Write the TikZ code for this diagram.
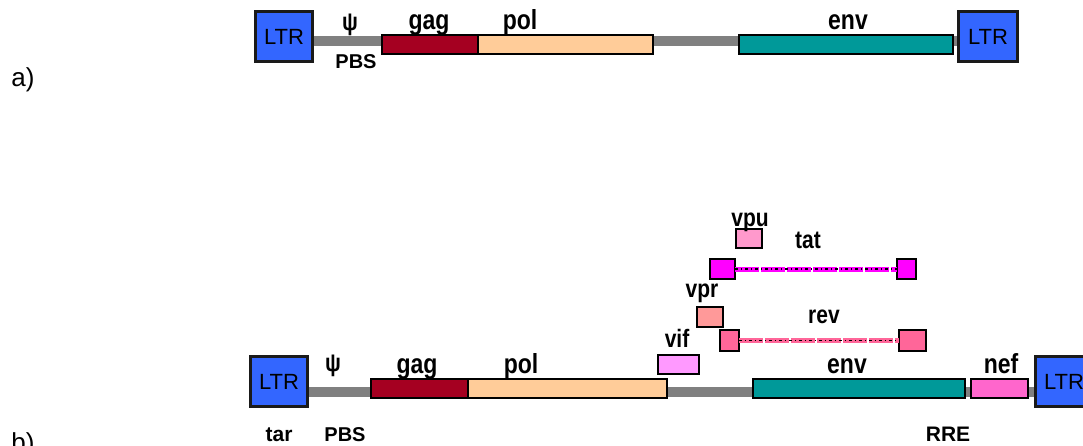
\documentclass[tikz,border=0pt]{standalone}
\usepackage{fontspec}
\setmainfont{Liberation Sans}
\usetikzlibrary{backgrounds}
\definecolor{ltrblue}{HTML}{3366FF}
\definecolor{ltrline}{HTML}{1A1A1A}
\definecolor{gagred}{HTML}{A50021}
\definecolor{polpeach}{HTML}{FFCC99}
\definecolor{envteal}{HTML}{009999}
\definecolor{nefpink}{HTML}{FF66CC}
\definecolor{vifpink}{HTML}{FF99FF}
\definecolor{revpink}{HTML}{FF6699}
\definecolor{vprpink}{HTML}{FF9999}
\definecolor{tatmag}{HTML}{FF00FF}
\definecolor{vpupink}{HTML}{FF99CC}
\definecolor{bbgray}{HTML}{808080}
\newcommand\lblscale[1]{\scalebox{1}[1.2]{#1}}
\tikzset{
  genebox/.style={draw=black, line width=1.2pt, inner sep=0pt, outer sep=0pt, anchor=center},
  ltrbox/.style={draw=ltrline, line width=3pt, fill=ltrblue, minimum width=57pt, minimum height=50pt,
    inner sep=0pt, outer sep=0pt, font=\fontsize{22}{22}\selectfont},
  biglbl/.style={anchor=base, inner sep=0pt, font=\fontsize{23}{23}\selectfont\bfseries},
  smalllbl/.style={anchor=base, inner sep=0pt, font=\fontsize{21}{21}\selectfont\bfseries},
  caplbl/.style={anchor=base, inner sep=0pt, font=\fontsize{20}{20}\selectfont\bfseries},
  partlbl/.style={anchor=base, inner sep=0pt, font=\fontsize{26}{26}\selectfont},
  backbone/.style={draw=bbgray, line width=10pt},
  splicecol/.style={line width=5pt, dash pattern=on 24pt off 2pt},
  splicedots/.style={draw=black, line width=1.3pt, dash pattern=on 3pt off 3pt on 1pt off 3pt},
}
\begin{document}
\begin{tikzpicture}[x=1pt,y=-1pt]
\useasboundingbox (0,0) rectangle (1083,446);
% ---------- a) ----------
\node[partlbl] (pa) at (23,87) {a)};
\node[ltrbox] (ltrA1) at (284,36.5) {LTR};
\node[ltrbox, minimum width=59pt] (ltrA2) at (988,36.5) {LTR};
\node[genebox, fill=gagred, minimum width=96pt, minimum height=19pt] (gagA) at (430,44.5) {};
\node[genebox, fill=polpeach, minimum width=175pt, minimum height=19pt] (polA) at (565.5,44.5) {};
\node[genebox, fill=envteal, minimum width=214pt, minimum height=19pt] (envA) at (846,44.5) {};
\coordinate (bbA) at (0,41);
\begin{pgfonlayer}{background}
\draw[backbone] (ltrA1.east |- bbA) -- (ltrA2.west |- bbA);
\end{pgfonlayer}
\node[anchor=center, inner sep=0pt, font=\fontsize{21}{21}\selectfont\bfseries] (psiA) at (350,25) {\lblscale{ψ}};
\node[biglbl] (lgagA) at (429,30) {\lblscale{gag}};
\node[biglbl] (lpolA) at (520,30) {\lblscale{pol}};
\node[biglbl] (lenvA) at (848,30) {\lblscale{env}};
\node[caplbl] (lpbsA) at (356,69) {PBS};
% ---------- b) ----------
\node[partlbl] (pb) at (23,451) {b)};
\node[ltrbox] (ltrB1) at (279,381.5) {LTR};
\node[ltrbox] (ltrB2) at (1064,381.5) {LTR};
\node[genebox, fill=gagred, minimum width=97pt, minimum height=19pt] (gagB) at (419.5,388.5) {};
\node[genebox, fill=polpeach, minimum width=199pt, minimum height=19pt] (polB) at (567.5,388.5) {};
\node[genebox, fill=envteal, minimum width=212pt, minimum height=19pt] (envB) at (859,388.5) {};
\node[genebox, fill=nefpink, minimum width=57pt, minimum height=19pt] (nefB) at (999.5,388.5) {};
\node[genebox, fill=vifpink, minimum width=41pt, minimum height=19pt] (vifB) at (678.5,364.5) {};
\node[genebox, fill=revpink, minimum width=19pt, minimum height=21pt] (revL) at (729.5,340.5) {};
\node[genebox, fill=revpink, minimum width=27pt, minimum height=21pt] (revR) at (912.5,340.5) {};
\node[genebox, fill=vprpink, minimum width=26pt, minimum height=20pt] (vprB) at (710,317) {};
\node[genebox, fill=tatmag, minimum width=25pt, minimum height=20pt] (tatL) at (722.5,269) {};
\node[genebox, fill=tatmag, minimum width=19pt, minimum height=20pt] (tatR) at (906.5,269) {};
\node[genebox, fill=vpupink, minimum width=26pt, minimum height=19pt] (vpuB) at (749,238.5) {};
\coordinate (bbB) at (0,392);
\begin{pgfonlayer}{background}
\draw[backbone] (ltrB1.east |- bbB) -- (ltrB2.west |- bbB);
\end{pgfonlayer}
% splice connectors
\draw[splicecol, draw=tatmag] (tatL.east) -- (tatR.west);
\draw[splicedots] (tatL.east) -- (tatR.west);
\draw[splicecol, draw=revpink] (revL.east) -- (revR.west);
\draw[splicedots] (revL.east) -- (revR.west);
% labels
\node[anchor=center, inner sep=0pt, font=\fontsize{21}{21}\selectfont\bfseries] (psiB) at (333,366) {\lblscale{ψ}};
\node[biglbl] (lgagB) at (417,373) {\lblscale{gag}};
\node[biglbl] (lpolB) at (521,373) {\lblscale{pol}};
\node[biglbl] (lenvB) at (847,373) {\lblscale{env}};
\node[biglbl] (lnefB) at (1001,373) {\lblscale{nef}};
\node[smalllbl] (lvif) at (677,347) {\lblscale{vif}};
\node[smalllbl] (lrev) at (824,323) {\lblscale{rev}};
\node[smalllbl] (lvpr) at (702,297) {\lblscale{vpr}};
\node[smalllbl] (ltat) at (808,248) {\lblscale{tat}};
\node[smalllbl] (lvpu) at (750,226) {\lblscale{vpu}};
\node[smalllbl] (ltar) at (279,441) {tar};
\node[caplbl] (lpbsB) at (345,441) {PBS};
\node[caplbl, font=\fontsize{21}{21}\selectfont\bfseries] (lrre) at (948,441) {RRE};
\end{tikzpicture}
\end{document}
